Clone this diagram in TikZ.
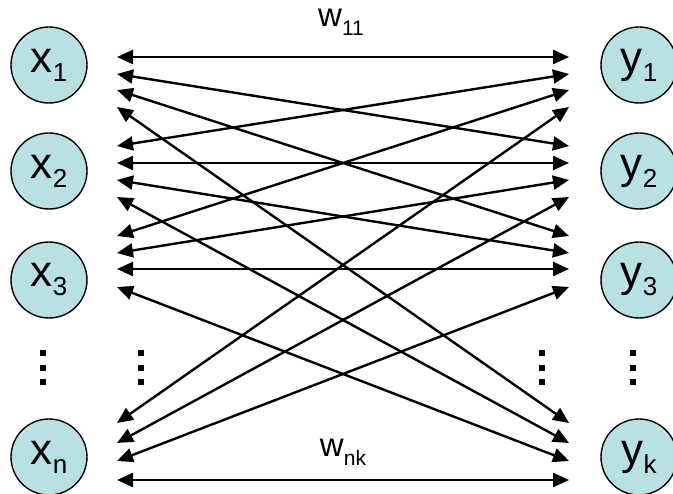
\documentclass[tikz,border=0pt]{standalone}
\usepackage{fontspec}
\setmainfont{Liberation Sans}
\usetikzlibrary{arrows.meta}
\definecolor{cellfill}{HTML}{B9E0E3}
\newcommand{\lowidx}[1]{\raisebox{-9pt}{\fontsize{26}{26}\selectfont #1}}
\newcommand{\wlowidx}[1]{\raisebox{-9pt}{\fontsize{21}{21}\selectfont #1}}

\begin{document}
\begin{tikzpicture}[
    x=1pt, y=-1pt,
    neuron/.style={circle, draw, line width=1.4pt, fill=cellfill, minimum size=76pt, inner sep=0pt,
        font=\fontsize{44}{44}\selectfont},
    weight/.style={font=\fontsize{33}{33}\selectfont, inner sep=0pt},
    link/.style={{Triangle[length=16pt,width=14pt]}-{Triangle[length=16pt,width=14pt]}, line width=2.4pt}
]
    \useasboundingbox (0,0) rectangle (673,494);

    % input and output units
    \node[neuron] (x1) at (49,65) {x\lowidx{1}};
    \node[neuron] (x2) at (49,171) {x\lowidx{2}};
    \node[neuron] (x3) at (49,280) {x\lowidx{3}};
    \node[neuron] (xn) at (49,457) {x\lowidx{n}};
    \node[neuron] (y1) at (639,65) {y\lowidx{1}};
    \node[neuron] (y2) at (639,171) {y\lowidx{2}};
    \node[neuron] (y3) at (639,280) {y\lowidx{3}};
    \node[neuron] (yk) at (639,457) {y\lowidx{k}};

    % end points of the links, one group per unit
    \foreach \g/\a/\b/\c/\d in {1/57/74/90/107, 2/146/163/180/197, 3/236/253/269/287, 4/423/443/461/480}{
        \coordinate (L\g-1) at (117,\a);
        \coordinate (L\g-2) at (117,\b);
        \coordinate (L\g-3) at (117,\c);
        \coordinate (L\g-4) at (117,\d);
        \coordinate (R\g-1) at (569,\a);
        \coordinate (R\g-2) at (569,\b);
        \coordinate (R\g-3) at (569,\c);
        \coordinate (R\g-4) at (569,\d);
    }

    % weights
    \foreach \i in {1,...,4}
        \foreach \j in {1,...,4}
            \draw[link] (L\i-\j) -- (R\j-\i);

    \node[weight] (w11) at (341,22) {w\wlowidx{11}};
    \node[weight] (wnk) at (343,452) {w\wlowidx{nk}};

    % vertical dots
    \foreach \cx in {43,141,542,633}
        \foreach \cy in {353,368,382}
            \fill (\cx-3,\cy-3) rectangle (\cx+3,\cy+3);
\end{tikzpicture}
\end{document}
